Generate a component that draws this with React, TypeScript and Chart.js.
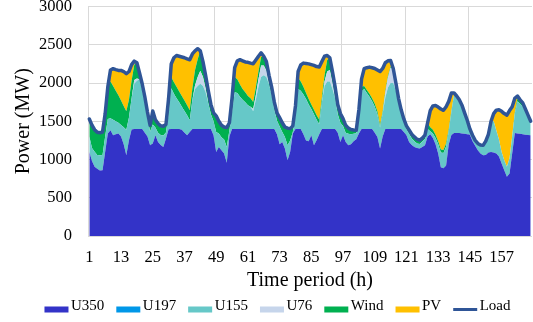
import { useEffect, useRef } from 'react';
import { Chart, registerables } from 'chart.js';

Chart.register(...registerables);

// ---------- data ----------
const HOURS = [
  1, 2, 3, 4, 5, 6, 7, 8, 9, 10, 11, 12, 13, 14, 15, 16, 17, 18, 19, 20, 21, 22, 23, 24,
  25, 26, 27, 28, 29, 30, 31, 32, 33, 34, 35, 36, 37, 38, 39, 40, 41, 42, 43, 44, 45, 46, 47, 48,
  49, 50, 51, 52, 53, 54, 55, 56, 57, 58, 59, 60, 61, 62, 63, 64, 65, 66, 67, 68, 69, 70, 71, 72,
  73, 74, 75, 76, 77, 78, 79, 80, 81, 82, 83, 84, 85, 86, 87, 88, 89, 90, 91, 92, 93, 94, 95, 96,
  97, 98, 99, 100, 101, 102, 103, 104, 105, 106, 107, 108, 109, 110, 111, 112, 113, 114, 115, 116, 117, 118, 119, 120,
  121, 122, 123, 124, 125, 126, 127, 128, 129, 130, 131, 132, 133, 134, 135, 136, 137, 138, 139, 140, 141, 142, 143, 144,
  145, 146, 147, 148, 149, 150, 151, 152, 153, 154, 155, 156, 157, 158, 159, 160, 161, 162, 163, 164, 165, 166, 167, 168,
];

const TICK_LABELS = ['1', '13', '25', '37', '49', '61', '73', '85', '97', '109', '121', '133', '145', '157'];

const U350 = [
  1100, 980, 904, 880, 855, 860, 1100, 1340, 1382, 1317, 1330, 1339, 1300, 1200, 1056, 1252, 1391, 1400, 1400, 1400, 1400, 1350, 1300, 1187,
  1209, 1317, 1230, 1190, 1165, 1274, 1395, 1400, 1400, 1400, 1400, 1390, 1350, 1317, 1360, 1400, 1400, 1400, 1400, 1400, 1400, 1400, 1400, 1317,
  1099, 1165, 1122, 1080, 956, 1300, 1400, 1400, 1400, 1400, 1400, 1400, 1400, 1400, 1400, 1400, 1400, 1400, 1400, 1400, 1400, 1400, 1400, 1330,
  1200, 1230, 1143, 991, 1100, 1340, 1400, 1400, 1400, 1330, 1250, 1240, 1317, 1187, 1252, 1330, 1400, 1400, 1400, 1400, 1400, 1400, 1350, 1230,
  1317, 1230, 1187, 1200, 1240, 1265, 1339, 1400, 1400, 1400, 1400, 1400, 1350, 1295, 1143, 1300, 1400, 1400, 1400, 1400, 1400, 1400, 1400, 1360,
  1317, 1230, 1190, 1165, 1150, 1143, 1165, 1187, 1300, 1330, 1280, 1200, 1080, 900, 885, 920, 1200, 1320, 1347, 1345, 1345, 1340, 1335, 1330,
  1325, 1240, 1180, 1120, 1080, 1056, 1060, 1090, 1099, 1090, 1078, 1040, 948, 860, 773, 817, 1078, 1347, 1340, 1335, 1330, 1325, 1320, 1317,
];

const U197 = [
  0, 0, 0, 0, 0, 0, 0, 0, 0, 0, 0, 0, 0, 0, 0, 0, 0, 0, 0, 0, 0, 0, 0, 0,
  0, 0, 0, 0, 0, 0, 0, 0, 0, 0, 0, 0, 0, 0, 0, 0, 0, 0, 0, 0, 0, 0, 0, 0,
  0, 0, 0, 0, 0, 0, 0, 0, 0, 0, 0, 0, 0, 0, 0, 0, 0, 0, 0, 0, 0, 0, 0, 0,
  0, 0, 0, 0, 0, 0, 0, 0, 0, 0, 0, 0, 0, 0, 0, 0, 0, 0, 0, 0, 0, 0, 0, 0,
  0, 0, 0, 0, 0, 0, 0, 0, 0, 0, 0, 0, 0, 0, 0, 0, 0, 0, 0, 0, 0, 0, 0, 0,
  0, 0, 0, 0, 0, 0, 0, 0, 0, 0, 0, 0, 0, 0, 0, 0, 0, 0, 0, 0, 0, 0, 0, 0,
  0, 0, 0, 0, 0, 0, 0, 0, 0, 0, 0, 0, 0, 0, 0, 0, 0, 0, 0, 0, 0, 0, 0, 0,
];

const U155 = [
  200, 170, 196, 180, 200, 200, 200, 190, 158, 203, 170, 141, 150, 220, 334, 298, 409, 590, 630, 650, 510, 390, 240, 180,
  250, 100, 120, 130, 150, 80, 200, 530, 460, 400, 350, 300, 285, 261, 153, 380, 520, 560, 590, 560, 480, 340, 190, 183,
  261, 175, 170, 180, 209, 80, 220, 480, 470, 420, 380, 350, 310, 290, 230, 380, 550, 680, 700, 680, 580, 440, 250, 180,
  230, 130, 150, 196, 150, 20, 180, 520, 500, 520, 540, 480, 343, 403, 268, 130, 350, 560, 620, 620, 520, 400, 240, 250,
  120, 120, 150, 131, 95, 77, 200, 490, 520, 470, 420, 360, 340, 295, 274, 300, 410, 540, 600, 600, 500, 385, 230, 140,
  83, 105, 85, 75, 60, 59, 70, 80, 100, 40, 60, 80, 120, 190, 200, 250, 170, 300, 500, 485, 435, 370, 275, 183,
  75, 77, 70, 90, 110, 129, 180, 240, 401, 410, 300, 220, 150, 130, 131, 200, 222, 253, 420, 390, 360, 300, 240, 173,
];

const U76 = [
  0, 0, 0, 0, 0, 0, 0, 0, 0, 0, 0, 0, 0, 0, 0, 0, 0, 50, 30, 0, 0, 0, 0, 0,
  0, 0, 0, 0, 0, 0, 0, 0, 0, 0, 0, 0, 0, 0, 0, 0, 50, 120, 170, 120, 50, 0, 0, 0,
  0, 0, 0, 0, 0, 0, 0, 0, 0, 0, 0, 0, 0, 0, 30, 60, 100, 150, 130, 80, 0, 0, 0, 0,
  0, 0, 0, 0, 0, 0, 0, 0, 0, 0, 0, 0, 0, 0, 0, 0, 0, 60, 130, 150, 80, 0, 0, 0,
  0, 0, 0, 0, 0, 0, 0, 0, 0, 0, 0, 0, 0, 0, 0, 0, 60, 130, 200, 175, 85, 0, 0, 0,
  0, 0, 0, 0, 0, 0, 0, 0, 0, 0, 0, 0, 0, 0, 0, 0, 0, 0, 0, 0, 0, 0, 0, 0,
  0, 0, 0, 0, 0, 0, 0, 0, 0, 0, 0, 0, 0, 0, 0, 0, 0, 0, 0, 0, 0, 0, 0, 0,
];

const WIND = [
  230, 300, 290, 295, 295, 300, 300, 420, 480, 440, 400, 360, 320, 280, 240, 230, 230, 200, 205, 80, 80, 80, 80, 80,
  175, 103, 120, 120, 120, 106, 205, 150, 150, 150, 140, 140, 135, 130, 130, 150, 200, 230, 260, 200, 170, 160, 130, 110,
  210, 160, 155, 165, 252, 100, 180, 200, 180, 160, 140, 130, 120, 110, 92, 100, 100, 110, 120, 120, 120, 107, 100, 100,
  118, 120, 132, 223, 154, 80, 120, 150, 120, 100, 80, 70, 60, 60, 60, 60, 60, 80, 150, 160, 150, 150, 130, 120,
  98, 97, 73, 60, 50, 40, 111, 60, 40, 40, 40, 40, 40, 40, 30, 30, 25, 20, 15, 15, 15, 15, 20, 30,
  40, 50, 55, 55, 55, 50, 45, 53, 80, 50, 50, 45, 40, 40, 40, 40, 30, 20, 0, 0, 0, 0, 0, 0,
  0, 0, 0, 0, 0, 0, 0, 0, 0, 0, 0, 0, 0, 0, 0, 0, 0, 20, 40, 55, 50, 35, 20, 10,
];

const PV = [
  0, 0, 0, 0, 0, 0, 0, 0, 150, 227, 275, 325, 395, 450, 491, 370, 210, 46, 0, 0, 0, 0, 0, 0,
  0, 0, 0, 0, 0, 0, 0, 170, 320, 410, 460, 510, 560, 607, 661, 450, 250, 138, 0, 0, 0, 0, 0, 0,
  0, 0, 0, 0, 0, 0, 0, 120, 240, 324, 370, 395, 440, 460, 500, 360, 200, 55, 0, 0, 0, 0, 0, 0,
  0, 0, 0, 0, 0, 0, 0, 80, 215, 310, 385, 460, 520, 580, 635, 690, 470, 250, 60, 0, 0, 0, 0, 0,
  0, 0, 0, 0, 0, 0, 0, 100, 227, 290, 348, 400, 460, 540, 703, 560, 370, 200, 80, 0, 0, 0, 0, 0,
  0, 0, 0, 0, 0, 0, 0, 0, 0, 220, 310, 380, 445, 530, 518, 480, 360, 230, 23, 0, 0, 0, 0, 0,
  0, 0, 0, 0, 0, 0, 0, 0, 0, 100, 267, 390, 532, 610, 676, 623, 390, 180, 30, 0, 0, 0, 0, 0,
];

const LOAD = [
  1530, 1450, 1390, 1355, 1350, 1360, 1600, 1950, 2170, 2187, 2175, 2165, 2165, 2150, 2121, 2150, 2240, 2286, 2265, 2130, 1990, 1820, 1620, 1447,
  1634, 1520, 1470, 1440, 1435, 1460, 1800, 2250, 2330, 2360, 2350, 2340, 2330, 2315, 2304, 2380, 2420, 2448, 2420, 2280, 2100, 1900, 1720, 1610,
  1570, 1500, 1447, 1425, 1417, 1480, 1800, 2200, 2290, 2304, 2290, 2275, 2270, 2260, 2252, 2300, 2350, 2395, 2350, 2280, 2100, 1947, 1750, 1610,
  1548, 1480, 1425, 1410, 1404, 1440, 1700, 2150, 2235, 2260, 2255, 2250, 2240, 2230, 2215, 2210, 2280, 2350, 2360, 2330, 2150, 1950, 1720, 1600,
  1535, 1447, 1410, 1391, 1385, 1382, 1650, 2050, 2187, 2200, 2208, 2200, 2190, 2170, 2150, 2190, 2265, 2290, 2295, 2190, 2000, 1800, 1650, 1530,
  1440, 1385, 1330, 1295, 1265, 1252, 1280, 1320, 1480, 1640, 1700, 1705, 1685, 1660, 1643, 1690, 1760, 1870, 1870, 1830, 1780, 1710, 1610, 1513,
  1400, 1317, 1250, 1210, 1190, 1185, 1240, 1330, 1500, 1600, 1645, 1650, 1630, 1600, 1580, 1640, 1690, 1800, 1830, 1780, 1740, 1660, 1580, 1500,
];

const AREA_SERIES = [
  { label: 'U350', data: U350, color: '#3333C8' },
  { label: 'U197', data: U197, color: '#0097E8' },
  { label: 'U155', data: U155, color: '#66C8C8' },
  { label: 'U76', data: U76, color: '#C6D5EB' },
  { label: 'Wind', data: WIND, color: '#00B050' },
  { label: 'PV', data: PV, color: '#FFC000' },
];
const LOAD_COLOR = '#2F5597';

const FONT = "'Liberation Serif', 'Times New Roman', serif";

export default function App() {
  const ref = useRef<HTMLCanvasElement>(null);

  useEffect(() => {
    const canvas = ref.current;
    if (!canvas) return;

    const legendPlugin = {
      id: 'bottomLegend',
      afterDraw(chart: any) {
        const ctx = chart.ctx as CanvasRenderingContext2D;
        const box = 24;
        const boxH = 6;
        const gap = 2.5;
        const itemGap = 12;
        ctx.save();
        ctx.font = `15px ${FONT}`;
        ctx.textBaseline = 'middle';
        ctx.textAlign = 'left';
        const items = chart.data.datasets.map((ds: any) => ({
          label: ds.label as string,
          line: ds.fill === false,
          color: ds.fill === false ? ds.borderColor : ds.backgroundColor,
        }));
        const widths = items.map((it: any) => box + gap + ctx.measureText(it.label).width);
        const total = widths.reduce((a: number, b: number) => a + b, 0) + itemGap * (items.length - 1);
        let x = (chart.width - total) / 2 + 11;
        const yText = chart.height - 16;
        const yBox = chart.height - 12.5;
        items.forEach((it: any, i: number) => {
          if (it.line) {
            ctx.strokeStyle = it.color;
            ctx.lineWidth = 3;
            ctx.beginPath();
            ctx.moveTo(x, yBox);
            ctx.lineTo(x + box, yBox);
            ctx.stroke();
          } else {
            ctx.fillStyle = it.color;
            ctx.fillRect(x, yBox - boxH / 2, box, boxH);
          }
          ctx.fillStyle = '#000';
          ctx.fillText(it.label, x + box + gap, yText);
          x += widths[i] + itemGap;
        });
        ctx.restore();
      },
    };

    const datasets: any[] = AREA_SERIES.map((s, i) => ({
      type: 'line',
      label: s.label,
      data: s.data,
      backgroundColor: s.color,
      borderColor: s.color,
      borderWidth: 0,
      pointRadius: 0,
      pointHoverRadius: 0,
      fill: i === 0 ? 'origin' : '-1',
      tension: 0,
      order: 1,
    }));
    datasets.push({
      type: 'line',
      label: 'Load',
      data: LOAD,
      borderColor: LOAD_COLOR,
      backgroundColor: LOAD_COLOR,
      borderWidth: 3.5,
      pointRadius: 0,
      pointHoverRadius: 0,
      fill: false,
      stack: 'load',
      tension: 0,
      order: 0,
      borderJoinStyle: 'round',
      borderCapStyle: 'round',
    });

    const chart = new Chart(canvas, {
      type: 'line',
      data: { labels: HOURS, datasets },
      options: {
        animation: false,
        responsive: false,
        devicePixelRatio: 1,
        layout: { padding: { top: 6.5, right: 1, bottom: 0, left: 0 } },
        plugins: {
          legend: { display: false },
          tooltip: { enabled: false },
        },
        scales: {
          x: {
            type: 'category',
            offset: true,
            grid: {
              offset: true,
              drawTicks: false,
              lineWidth: 1,
              color: (c: any) => (c.index % 24 === 0 ? '#D9D9D9' : 'rgba(0,0,0,0)'),
            },
            border: { display: false },
            ticks: {
              autoSkip: false,
              maxRotation: 0,
              minRotation: 0,
              padding: 12,
              color: '#000',
              font: { family: FONT, size: 16.5 },
              callback: function (this: any, val: any) {
                const l = String(this.getLabelForValue(val));
                return TICK_LABELS.includes(l) ? l : '';
              },
            },
            title: {
              display: true,
              text: 'Time period (h)',
              color: '#000',
              font: { family: FONT, size: 20 },
              padding: { top: 0, bottom: 29 },
            },
            afterFit: (s: any) => {
              s.height = 86;
              s.paddingLeft = 0;
              s.paddingRight = 0;
            },
          },
          y: {
            stacked: true,
            min: 0,
            max: 3000,
            ticks: {
              stepSize: 500,
              padding: 16,
              color: '#000',
              font: { family: FONT, size: 16.5 },
              callback: (v: any) => String(v),
            },
            grid: { color: '#D9D9D9', lineWidth: 1, drawTicks: false },
            border: { display: false },
            title: {
              display: true,
              text: 'Power (MW)',
              color: '#000',
              font: { family: FONT, size: 20 },
              padding: { top: 12, bottom: 0 },
            },
            afterFit: (s: any) => {
              s.width = 88;
              s.paddingTop = 0;
              s.paddingBottom = 0;
            },
          },
        },
      },
      plugins: [legendPlugin],
    });

    return () => chart.destroy();
  }, []);

  return (
    <canvas
      ref={ref}
      width={533}
      height={322}
      style={{ position: 'absolute', left: 0, top: 0, width: 533, height: 322 }}
    />
  );
}
